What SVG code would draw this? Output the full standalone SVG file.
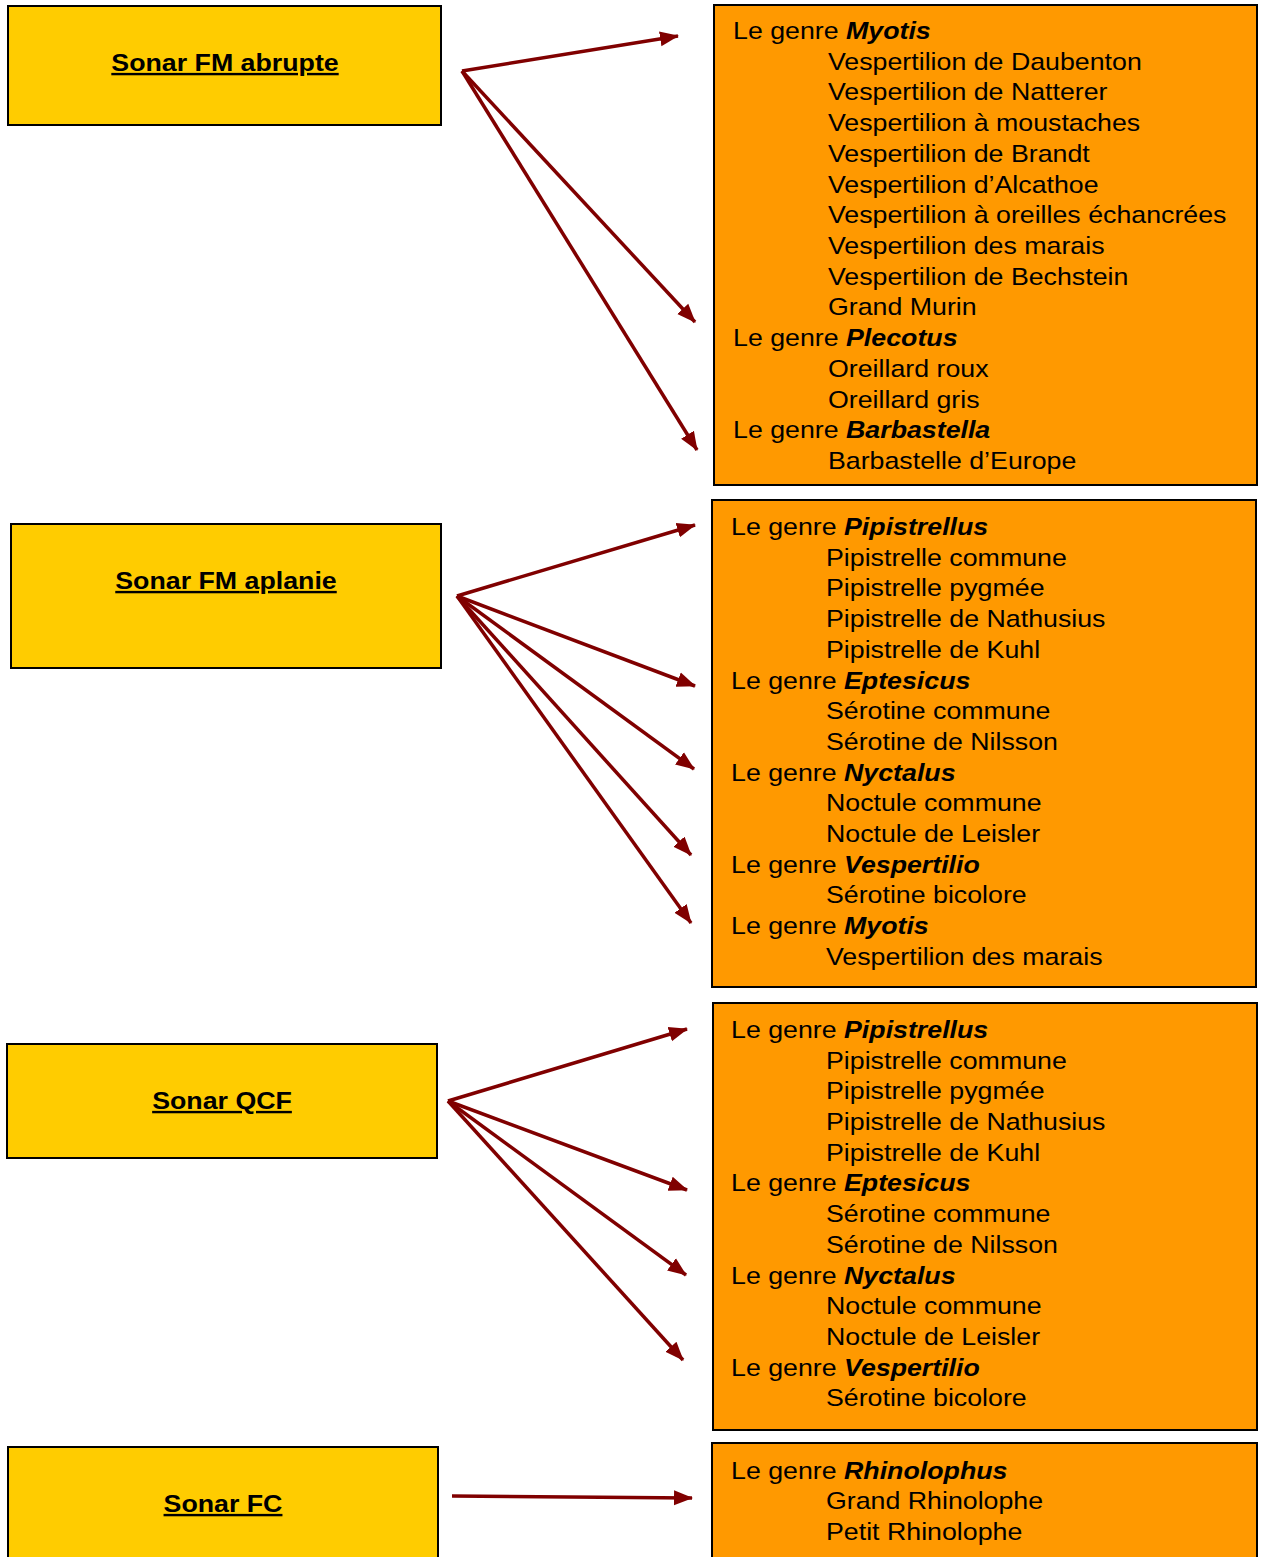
<svg xmlns="http://www.w3.org/2000/svg" width="1265" height="1557" viewBox="0 0 1265 1557">
<style>
.src{fill:#FFCC00;stroke:#000;stroke-width:2}
.dst{fill:#FF9900;stroke:#000;stroke-width:2}
.lab{font-family:"Liberation Sans",Arial,sans-serif;font-size:24px;font-weight:bold;text-decoration:underline;text-anchor:middle;fill:#000}
.t{font-family:"Liberation Sans",Arial,sans-serif;font-size:24px;fill:#000}
.g{font-weight:bold;font-style:italic}
.c{stroke:#800000;stroke-width:3.5;fill:none;marker-end:url(#ah)}
</style>
<defs>
<marker id="ah" markerUnits="userSpaceOnUse" markerWidth="20" markerHeight="18" refX="18" refY="9" orient="auto">
<path d="M0,1.5 L19,9 L0,16.5 Z" fill="#800000"/>
</marker>
</defs>
<g id="src1"><rect class="src" x="8" y="6" width="433" height="119"/><text class="lab" transform="translate(225,0) scale(1.115,1)" x="0" y="71">Sonar FM abrupte</text></g>
<g id="src2"><rect class="src" x="11" y="524" width="430" height="144"/><text class="lab" transform="translate(226,0) scale(1.115,1)" x="0" y="589">Sonar FM aplanie</text></g>
<g id="src3"><rect class="src" x="7" y="1044" width="430" height="114"/><text class="lab" transform="translate(222,0) scale(1.115,1)" x="0" y="1109">Sonar QCF</text></g>
<g id="src4"><rect class="src" x="8" y="1447" width="430" height="120"/><text class="lab" transform="translate(223,0) scale(1.115,1)" x="0" y="1512">Sonar FC</text></g>

<g id="dst1"><rect class="dst" x="714" y="5" width="543" height="480"/>
<g transform="translate(733,0) scale(1.115,1)">
<text class="t" x="0" y="39">Le genre <tspan class="g">Myotis</tspan></text>
<text class="t" x="85.2" y="70">Vespertilion de Daubenton</text>
<text class="t" x="85.2" y="100">Vespertilion de Natterer</text>
<text class="t" x="85.2" y="131">Vespertilion à moustaches</text>
<text class="t" x="85.2" y="162">Vespertilion de Brandt</text>
<text class="t" x="85.2" y="193">Vespertilion d’Alcathoe</text>
<text class="t" x="85.2" y="223">Vespertilion à oreilles échancrées</text>
<text class="t" x="85.2" y="254">Vespertilion des marais</text>
<text class="t" x="85.2" y="285">Vespertilion de Bechstein</text>
<text class="t" x="85.2" y="315">Grand Murin</text>
<text class="t" x="0" y="346">Le genre <tspan class="g">Plecotus</tspan></text>
<text class="t" x="85.2" y="377">Oreillard roux</text>
<text class="t" x="85.2" y="408">Oreillard gris</text>
<text class="t" x="0" y="438">Le genre <tspan class="g">Barbastella</tspan></text>
<text class="t" x="85.2" y="469">Barbastelle d’Europe</text>
</g>
</g>

<g id="dst2"><rect class="dst" x="712" y="500" width="544" height="487"/>
<g transform="translate(731,0) scale(1.115,1)">
<text class="t" x="0" y="535">Le genre <tspan class="g">Pipistrellus</tspan></text>
<text class="t" x="85.2" y="566">Pipistrelle commune</text>
<text class="t" x="85.2" y="596">Pipistrelle pygmée</text>
<text class="t" x="85.2" y="627">Pipistrelle de Nathusius</text>
<text class="t" x="85.2" y="658">Pipistrelle de Kuhl</text>
<text class="t" x="0" y="689">Le genre <tspan class="g">Eptesicus</tspan></text>
<text class="t" x="85.2" y="719">Sérotine commune</text>
<text class="t" x="85.2" y="750">Sérotine de Nilsson</text>
<text class="t" x="0" y="781">Le genre <tspan class="g">Nyctalus</tspan></text>
<text class="t" x="85.2" y="811">Noctule commune</text>
<text class="t" x="85.2" y="842">Noctule de Leisler</text>
<text class="t" x="0" y="873">Le genre <tspan class="g">Vespertilio</tspan></text>
<text class="t" x="85.2" y="903">Sérotine bicolore</text>
<text class="t" x="0" y="934">Le genre <tspan class="g">Myotis</tspan></text>
<text class="t" x="85.2" y="965">Vespertilion des marais</text>
</g>
</g>

<g id="dst3"><rect class="dst" x="713" y="1003" width="544" height="427"/>
<g transform="translate(731,0) scale(1.115,1)">
<text class="t" x="0" y="1038">Le genre <tspan class="g">Pipistrellus</tspan></text>
<text class="t" x="85.2" y="1069">Pipistrelle commune</text>
<text class="t" x="85.2" y="1099">Pipistrelle pygmée</text>
<text class="t" x="85.2" y="1130">Pipistrelle de Nathusius</text>
<text class="t" x="85.2" y="1161">Pipistrelle de Kuhl</text>
<text class="t" x="0" y="1191">Le genre <tspan class="g">Eptesicus</tspan></text>
<text class="t" x="85.2" y="1222">Sérotine commune</text>
<text class="t" x="85.2" y="1253">Sérotine de Nilsson</text>
<text class="t" x="0" y="1284">Le genre <tspan class="g">Nyctalus</tspan></text>
<text class="t" x="85.2" y="1314">Noctule commune</text>
<text class="t" x="85.2" y="1345">Noctule de Leisler</text>
<text class="t" x="0" y="1376">Le genre <tspan class="g">Vespertilio</tspan></text>
<text class="t" x="85.2" y="1406">Sérotine bicolore</text>
</g>
</g>

<g id="dst4"><rect class="dst" x="712" y="1443" width="545" height="124"/>
<g transform="translate(731,0) scale(1.115,1)">
<text class="t" x="0" y="1479">Le genre <tspan class="g">Rhinolophus</tspan></text>
<text class="t" x="85.2" y="1509">Grand Rhinolophe</text>
<text class="t" x="85.2" y="1540">Petit Rhinolophe</text>
</g>
</g>

<g id="connectors">
<line class="c" x1="462" y1="71" x2="678" y2="36"/>
<line class="c" x1="462" y1="71" x2="695" y2="322"/>
<line class="c" x1="462" y1="71" x2="697" y2="450"/>
<line class="c" x1="457" y1="596" x2="695" y2="525"/>
<line class="c" x1="457" y1="596" x2="695" y2="686"/>
<line class="c" x1="457" y1="596" x2="694" y2="769"/>
<line class="c" x1="457" y1="596" x2="691" y2="855"/>
<line class="c" x1="457" y1="596" x2="691" y2="923"/>
<line class="c" x1="448" y1="1101" x2="687" y2="1029"/>
<line class="c" x1="448" y1="1101" x2="687" y2="1190"/>
<line class="c" x1="448" y1="1101" x2="686" y2="1275"/>
<line class="c" x1="448" y1="1101" x2="683" y2="1360"/>
<line class="c" x1="452" y1="1496" x2="692" y2="1498"/>
</g>
</svg>
